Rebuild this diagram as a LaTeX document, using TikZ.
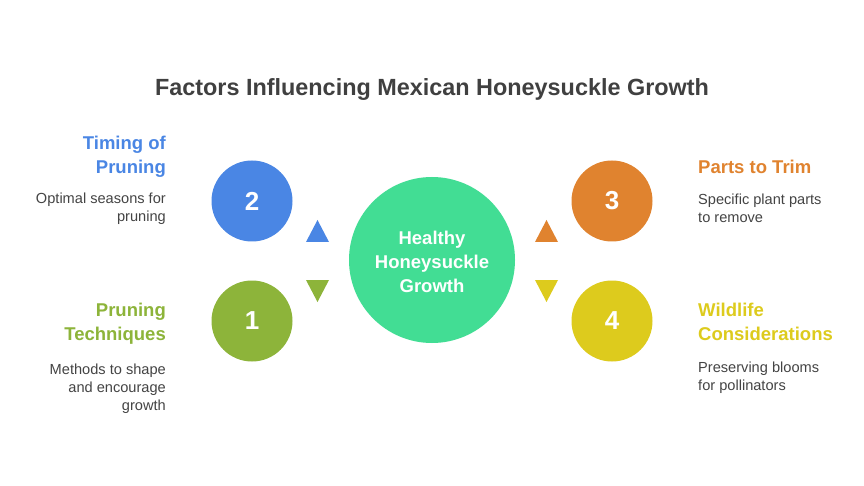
\documentclass[tikz,border=0pt]{standalone}
\usepackage{fontspec}
\setmainfont{Liberation Sans}
\definecolor{titlecol}{HTML}{404040}
\definecolor{desccol}{HTML}{444444}
\definecolor{cblue}{HTML}{4A86E4}
\definecolor{cgreen}{HTML}{8DB43A}
\definecolor{corange}{HTML}{E0832F}
\definecolor{cyellow}{HTML}{DDCB1D}
\definecolor{ccenter}{HTML}{42DD94}
\begin{document}
\begin{tikzpicture}[x=1pt,y=-1pt]
\useasboundingbox[fill=white] (0,0) rectangle (864,486);
\tikzset{
  numcirc/.style={circle, minimum size=81pt, inner sep=0pt, text=white,
    font=\fontsize{26}{30}\selectfont\bfseries},
  headtext/.style={font=\fontsize{18.5}{24}\selectfont\bfseries},
  desctext/.style={font=\fontsize{14.6}{18}\selectfont, text=desccol},
}
% title
\node[font=\fontsize{23.4}{28}\selectfont\bfseries, text=titlecol] (title) at (432,89.5)
  {Factors Influencing Mexican Honeysuckle Growth};
% central circle
\node[circle, fill=ccenter, minimum size=166pt, inner sep=0pt, text=white,
  font=\fontsize{18.5}{24}\selectfont\bfseries, align=center] (center) at (432,260) {};
\node[text=white, font=\fontsize{18.5}{24}\selectfont\bfseries, align=center] (centertext) at (432,262)
  {Healthy\\Honeysuckle\\Growth};
% number circles
\node[numcirc, fill=cblue] (c2) at (252,201) {2};
\node[numcirc, fill=cgreen] (c1) at (252,321) {1};
\node[numcirc, fill=corange] (c3) at (612,201) {3};
\node[numcirc, fill=cyellow] (c4) at (612,321) {4};
% triangles
\fill[cblue] (317.5,220) -- (329,242) -- (306,242) -- cycle;
\fill[cgreen] (306,280) -- (329,280) -- (317.5,302) -- cycle;
\fill[corange] (546.5,220) -- (558,242) -- (535,242) -- cycle;
\fill[cyellow] (535,280) -- (558,280) -- (546.5,302) -- cycle;
% left texts
\node[headtext, text=cblue, align=right, anchor=east, inner sep=0pt] (h2) at (166,156.5) {Timing of\\Pruning};
\node[desctext, align=right, anchor=east, inner sep=0pt] (d2) at (166,208.5) {Optimal seasons for\\pruning};
\node[headtext, text=cgreen, align=right, anchor=east, inner sep=0pt] (h1) at (166,324) {Pruning\\Techniques};
\node[desctext, align=right, anchor=east, inner sep=0pt] (d1) at (166,389) {Methods to shape\\and encourage\\growth};
% right texts
\node[headtext, text=corange, align=left, anchor=west, inner sep=0pt] (h3) at (698,166.5) {Parts to Trim};
\node[desctext, align=left, anchor=west, inner sep=0pt] (d3) at (698,208) {Specific plant parts\\to remove};
\node[headtext, text=cyellow, align=left, anchor=west, inner sep=0pt] (h4) at (698,322) {Wildlife\\Considerations};
\node[desctext, align=left, anchor=west, inner sep=0pt] (d4) at (698,377.5) {Preserving blooms\\for pollinators};
\end{tikzpicture}
\end{document}
